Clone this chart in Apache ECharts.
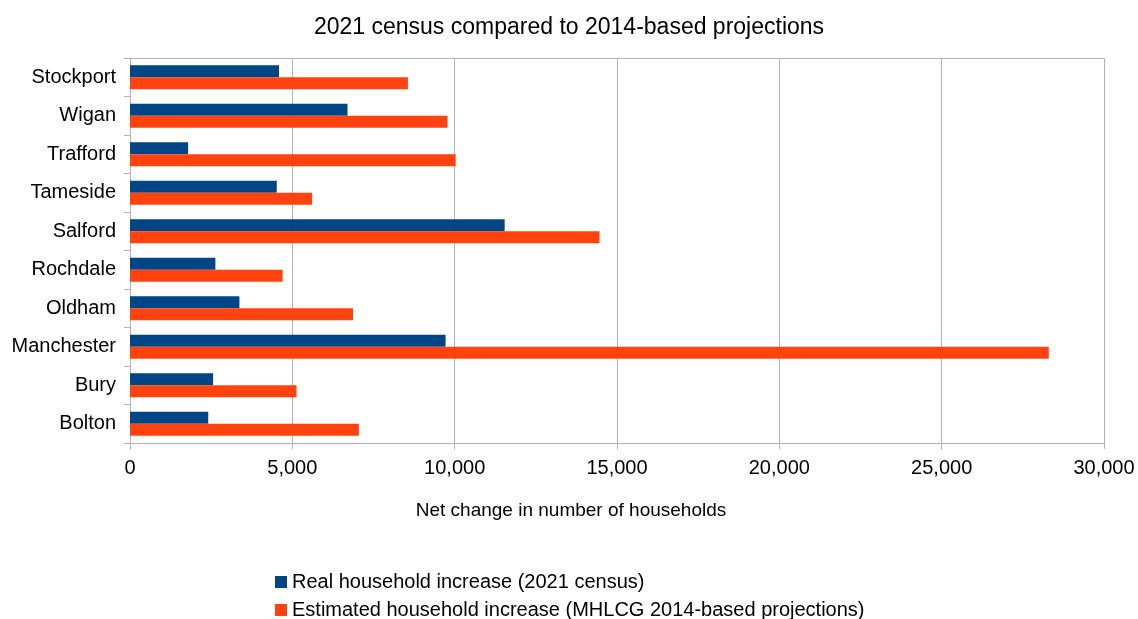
<!DOCTYPE html>
<html>
<head>
<meta charset="utf-8">
<script src="https://cdn.jsdelivr.net/npm/echarts@6/dist/echarts.min.js"></script>
<style>html,body{margin:0;padding:0;background:#fff;}#c{width:1138px;height:619px;}</style>
</head>
<body>
<div id="c"></div>
<script>
const categories = ["Bolton", "Bury", "Manchester", "Oldham", "Rochdale", "Salford", "Tameside", "Trafford", "Wigan", "Stockport"];
const realIncrease = [2410, 2560, 9720, 3370, 2630, 11540, 4520, 1790, 6700, 4590];
const estimatedIncrease = [7050, 5130, 28300, 6870, 4700, 14460, 5610, 10030, 9780, 8560];
const seriesNames = ["Real household increase (2021 census)", "Estimated household increase (MHLCG 2014-based projections)"];
const titleText = "2021 census compared to 2014-based projections";
const xAxisName = "Net change in number of households";

const font = "'Liberation Sans', Arial, sans-serif";
const legendText = { fontFamily: font, fontSize: 20, color: '#000' };
const chart = echarts.init(document.getElementById('c'));
chart.setOption({
  animation: false,
  title: { text: titleText, left: 'center', top: 11,
    textStyle: { fontFamily: font, fontSize: 23, fontWeight: 'normal', color: '#000' } },
  legend: [{
    left: 270, top: 567, itemWidth: 12, itemHeight: 12, icon: 'rect', itemGap: 6,
    data: [seriesNames[0]], textStyle: legendText
  }, {
    left: 270, top: 595, itemWidth: 12, itemHeight: 12, icon: 'rect', itemGap: 6,
    data: [seriesNames[1]], textStyle: legendText
  }],
  grid: { left: 130, right: 34, top: 58, bottom: 176, containLabel: false },
  xAxis: [{
    type: 'value', min: 0, max: 30000, interval: 5000,
    name: xAxisName, nameLocation: 'middle', nameGap: 58,
    nameTextStyle: { fontFamily: font, fontSize: 19, color: '#000', padding: [0, 92, 0, 0] },
    axisLine: { show: true, lineStyle: { color: '#b3b3b3' } },
    axisTick: { show: true, length: 6, lineStyle: { color: '#b3b3b3' } },
    axisLabel: { fontFamily: font, fontSize: 20, color: '#000', margin: 15,
      formatter: v => v.toLocaleString('en-US') },
    splitLine: { show: true, lineStyle: { color: '#b3b3b3', width: 1 } }
  }, {
    type: 'value', min: 0, max: 30000, position: 'top',
    axisLine: { show: true, lineStyle: { color: '#b3b3b3' } },
    axisTick: { show: false }, axisLabel: { show: false }, splitLine: { show: false }
  }],
  yAxis: {
    type: 'category', data: categories,
    axisLine: { show: true, lineStyle: { color: '#b3b3b3' } },
    axisTick: { show: true, length: 6, lineStyle: { color: '#b3b3b3' } },
    axisLabel: { fontFamily: font, fontSize: 20, color: '#000', margin: 14 }
  },
  series: [
    { name: seriesNames[0], type: 'bar', data: realIncrease, barWidth: 12, barGap: '0%',
      itemStyle: { color: '#004586' } },
    { name: seriesNames[1], type: 'bar', data: estimatedIncrease, barWidth: 12, barGap: '0%',
      itemStyle: { color: '#ff420e' } }
  ]
});
</script>
</body>
</html>
